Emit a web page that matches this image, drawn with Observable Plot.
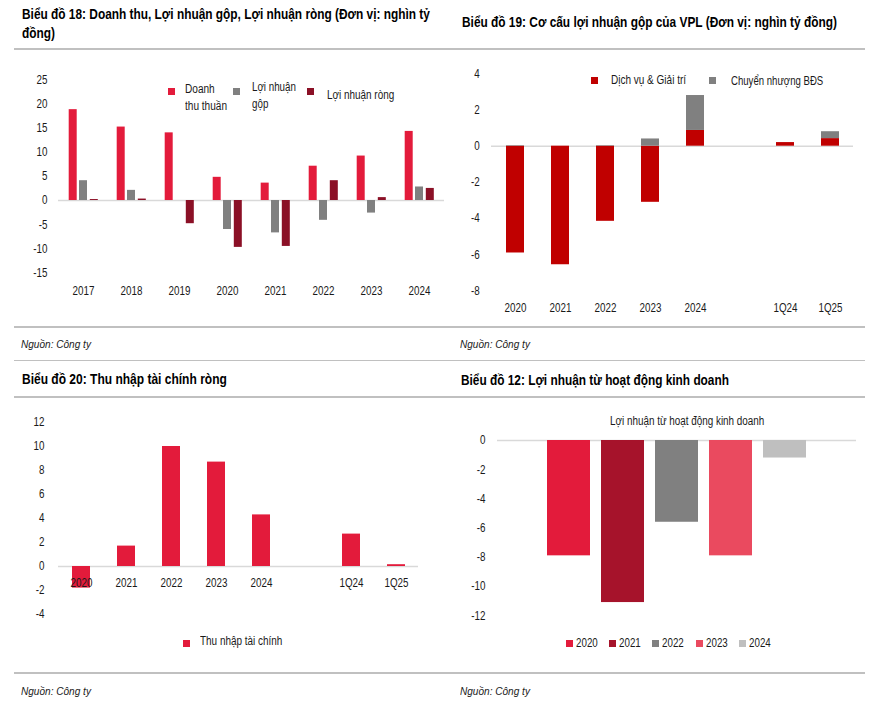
<!DOCTYPE html>
<html><head><meta charset="utf-8">
<script src="https://cdn.jsdelivr.net/npm/d3@7"></script>
<script src="https://cdn.jsdelivr.net/npm/@observablehq/plot@0.6"></script>
<style>
body{margin:0;background:#fff;}
#page{position:relative;width:875px;height:711px;overflow:hidden;font-family:"Liberation Sans",Arial,sans-serif;color:#1a1a1a;}
.abs{position:absolute;white-space:nowrap;transform-origin:0 50%;}
.title{font-weight:bold;font-size:14px;color:#000;line-height:19px;}
.hr{position:absolute;left:14px;width:851px;height:1.5px;background:#c0c0c0;}
.src{font-style:italic;font-size:11.5px;line-height:14px;}
.leg{font-size:12px;line-height:16px;}
.sw{position:absolute;width:7px;height:7px;}
.chart{position:absolute;}
.chart svg{max-width:none;}
</style></head><body><div id="page"></div>
<script>
// ---------- DATA ----------
// Biểu đồ 18
const years18 = ["2017","2018","2019","2020","2021","2022","2023","2024"];
const doanhThu18 = [18.8, 15.2, 14.0, 4.8, 3.6, 7.1, 9.2, 14.3];
const loiNhuanGop18 = [4.1, 2.1, 0, -6.0, -6.7, -4.1, -2.6, 2.8];
const loiNhuanRong18 = [0.2, 0.3, -4.8, -9.7, -9.5, 4.1, 0.6, 2.5];
const series18 = ["Doanh thu thuần", "Lợi nhuận gộp", "Lợi nhuận ròng"];
const colors18 = ["#e31b3b", "#808080", "#8b1026"];
const yTicks18 = [-15, -10, -5, 0, 5, 10, 15, 20, 25];

// Biểu đồ 19
const cats19 = ["2020","2021","2022","2023","2024","1Q24","1Q25"];
const dichVu19 = [-5.9, -6.55, -4.15, -3.1, 0.87, 0.2, 0.42];
const chuyenNhuong19 = [0.03, 0, 0.03, 0.4, 1.93, 0, 0.38];
const series19 = ["Dịch vụ & Giải trí", "Chuyển nhượng BĐS"];
const colors19 = ["#c00000", "#808080"];
const yTicks19 = [-8, -6, -4, -2, 0, 2, 4];

// Biểu đồ 20
const cats20 = ["2020","2021","2022","2023","2024","1Q24","1Q25"];
const thuNhapTC20 = [-1.8, 1.7, 10.0, 8.7, 4.3, 2.7, 0.15];
const series20 = ["Thu nhập tài chính"];
const colors20 = ["#e31b3b"];
const yTicks20 = [-4, -2, 0, 2, 4, 6, 8, 10, 12];

// Biểu đồ 12
const years12 = ["2020","2021","2022","2023","2024"];
const loiNhuanHDKD12 = [-7.9, -11.1, -5.6, -7.9, -1.2];
const colors12 = ["#e31b3b", "#a6132b", "#808080", "#ea4a5f", "#bfbfbf"];
const yTicks12 = [-12, -10, -8, -6, -4, -2, 0];

// ---------- LAYOUT HELPERS ----------
const FONT = '"Liberation Sans",Arial,sans-serif';
const NARROW = 0.82;
const page = document.getElementById("page");
function el(cls, html, left, top, target, extra) {
  const d = document.createElement("div");
  d.className = cls; d.innerHTML = html;
  d.style.left = left + "px"; d.style.top = top + "px";
  if (extra) Object.assign(d.style, extra);
  page.appendChild(d);
  const w = d.offsetWidth;
  const k = target ? target / w : NARROW;
  d.style.transform = `scaleX(${k})`;
  return d;
}
function hr(y) { const d = document.createElement("div"); d.className = "hr"; d.style.top = (y - 0.75) + "px"; page.appendChild(d); }
function swatch(color, left, top) { const d = document.createElement("div"); d.className = "sw"; d.style.left = left + "px"; d.style.top = top + "px"; d.style.background = color; page.appendChild(d); }
// narrow the Plot texts horizontally around their own anchor
function squeeze(svg, k) {
  svg.querySelectorAll("text").forEach(t => {
    const x = t.getAttribute("x");
    if (x != null && !isNaN(+x)) t.setAttribute("x", +x / k);
    const tr = t.getAttribute("transform") || "";
    t.setAttribute("transform", tr + ` scale(${k},1)`);
  });
}
function place(svg, left, top) { const d = document.createElement("div"); d.className = "chart"; d.style.left = left + "px"; d.style.top = top + "px"; d.appendChild(svg); page.appendChild(d); squeeze(svg, NARROW); }
const baseStyle = {background: "transparent", fontFamily: FONT, fontSize: "12px", color: "#1a1a1a", overflow: "visible"};
const fmt = d => String(d);

// ---------- FRAME TEXT ----------
[49, 327, 360.5, 397, 673].forEach(hr);
el("abs title", "Biểu đồ 18: Doanh thu, Lợi nhuận gộp, Lợi nhuận ròng (Đơn vị: nghìn tỷ<br>đồng)", 22, 4.5, 408);
el("abs title", "Biểu đồ 19: Cơ cấu lợi nhuận gộp của VPL (Đơn vị: nghìn tỷ đồng)", 461.5, 12.5, 375);
el("abs title", "Biểu đồ 20: Thu nhập tài chính ròng", 21.7, 369.5, 205);
el("abs title", "Biểu đồ 12: Lợi nhuận từ hoạt động kinh doanh", 460.7, 370.5, 267.6);
el("abs src", "Nguồn: Công ty", 21, 337, 70);
el("abs src", "Nguồn: Công ty", 460, 337, 70);
el("abs src", "Nguồn: Công ty", 21, 684, 70);
el("abs src", "Nguồn: Công ty", 460, 684, 70);

// ---------- CHART 18 ----------
const vals18 = [doanhThu18, loiNhuanGop18, loiNhuanRong18];
const dx18 = [-10.3, 0, 10.8];
const marks18 = [Plot.ruleY([0], {stroke: "#d9d9d9", strokeWidth: 1.5})];
vals18.forEach((arr, s) => {
  marks18.push(Plot.barY(years18.map((y, i) => ({year: y, value: arr[i]})), {x: "year", y: "value", fill: colors18[s], dx: dx18[s]}));
});
marks18.push(Plot.axisY({ticks: yTicks18, tickSize: 0, tickPadding: 11, tickFormat: fmt, label: null}));
marks18.push(Plot.axisX({tickSize: 0, tickPadding: 13.3, label: null}));
place(Plot.plot({
  width: 445, height: 250, marginLeft: 58, marginRight: 1, marginTop: 19.2, marginBottom: 37.5,
  style: baseStyle,
  x: {domain: years18, paddingInner: 0.824, paddingOuter: 0.409, axis: null},
  y: {domain: [-15, 25], axis: null},
  marks: marks18
}), 0, 60);
// legend 18
swatch(colors18[0], 168, 88); el("abs leg", "Doanh<br>thu thuần", 185, 81, 42, {lineHeight: "17px"});
swatch(colors18[1], 233, 88); el("abs leg", "Lợi nhuận<br>gộp", 252, 79, 44, {lineHeight: "17px"});
swatch(colors18[2], 307, 88); el("abs leg", series18[2], 327, 87, 67);

// ---------- CHART 19 ----------
const domain19 = [...cats19.slice(0, 5), "", ...cats19.slice(5)];
const rows19 = [];
cats19.forEach((c, i) => {
  rows19.push({cat: c, series: series19[0], value: dichVu19[i]});
  rows19.push({cat: c, series: series19[1], value: chuyenNhuong19[i]});
});
place(Plot.plot({
  width: 435, height: 260, marginLeft: 51, marginRight: 22, marginTop: 13.3, marginBottom: 29.5,
  style: baseStyle,
  x: {domain: domain19, paddingInner: 0.601, paddingOuter: 0.317, axis: null},
  y: {domain: [-8, 4], axis: null},
  color: {domain: series19, range: colors19},
  marks: [
    Plot.ruleY([0], {stroke: "#d9d9d9", strokeWidth: 1.5}),
    Plot.barY(rows19, {x: "cat", y: "value", fill: "series"}),
    Plot.axisY({ticks: yTicks19, tickSize: 0, tickPadding: 11.7, tickFormat: fmt, label: null}),
    Plot.axisX({ticks: cats19, tickSize: 0, tickPadding: 12.6, label: null})
  ]
}), 440, 60);
swatch(colors19[0], 591, 77); el("abs leg", series19[0], 611, 72, 75);
swatch(colors19[1], 709, 77); el("abs leg", series19[1], 731, 73, 92);

// ---------- CHART 20 ----------
const domain20 = [...cats20.slice(0, 5), "", ...cats20.slice(5)];
const rows20 = cats20.map((c, i) => ({cat: c, value: thuNhapTC20[i]}));
place(Plot.plot({
  width: 440, height: 225, marginLeft: 58, marginRight: 22, marginTop: 17, marginBottom: 16,
  style: baseStyle,
  x: {domain: domain20, paddingInner: 0.6, paddingOuter: 0.3, axis: null},
  y: {domain: [-4, 12], axis: null},
  marks: [
    Plot.ruleY([0], {stroke: "#d9d9d9", strokeWidth: 1.5}),
    Plot.barY(rows20, {x: "cat", y: "value", fill: colors20[0]}),
    Plot.axisY({ticks: yTicks20, tickSize: 0, tickPadding: 14, tickFormat: fmt, label: null}),
    Plot.text(rows20, {x: "cat", y: () => 0, text: "cat", dy: 17, fill: "#1a1a1a", fontSize: 12})
  ]
}), 0, 405);
swatch(colors20[0], 183, 640); el("abs leg", series20[0], 200, 633, 82);

// ---------- CHART 12 ----------
const rows12 = years12.map((y, i) => ({year: y, value: loiNhuanHDKD12[i]}));
el("abs leg", "Lợi nhuận từ hoạt động kinh doanh", 610, 413, 154);
place(Plot.plot({
  width: 435, height: 195, marginLeft: 57, marginRight: 19, marginTop: 10, marginBottom: 9.8,
  style: baseStyle,
  x: {domain: years12, paddingInner: 0.2, paddingOuter: 0.864, axis: null},
  y: {domain: [-12, 0], axis: null},
  color: {domain: years12, range: colors12},
  marks: [
    Plot.ruleY([0], {stroke: "#d9d9d9", strokeWidth: 1.5}),
    Plot.barY(rows12, {x: "year", y: "value", fill: "year"}),
    Plot.axisY({ticks: yTicks12, tickSize: 0, tickPadding: 12, tickFormat: fmt, label: null})
  ]
}), 440, 430);
const legX12 = [566, 609, 652, 696, 739];
years12.forEach((y, i) => { swatch(colors12[i], legX12[i], 640); el("abs leg", y, legX12[i] + 10, 635, 22); });
</script></body></html>
